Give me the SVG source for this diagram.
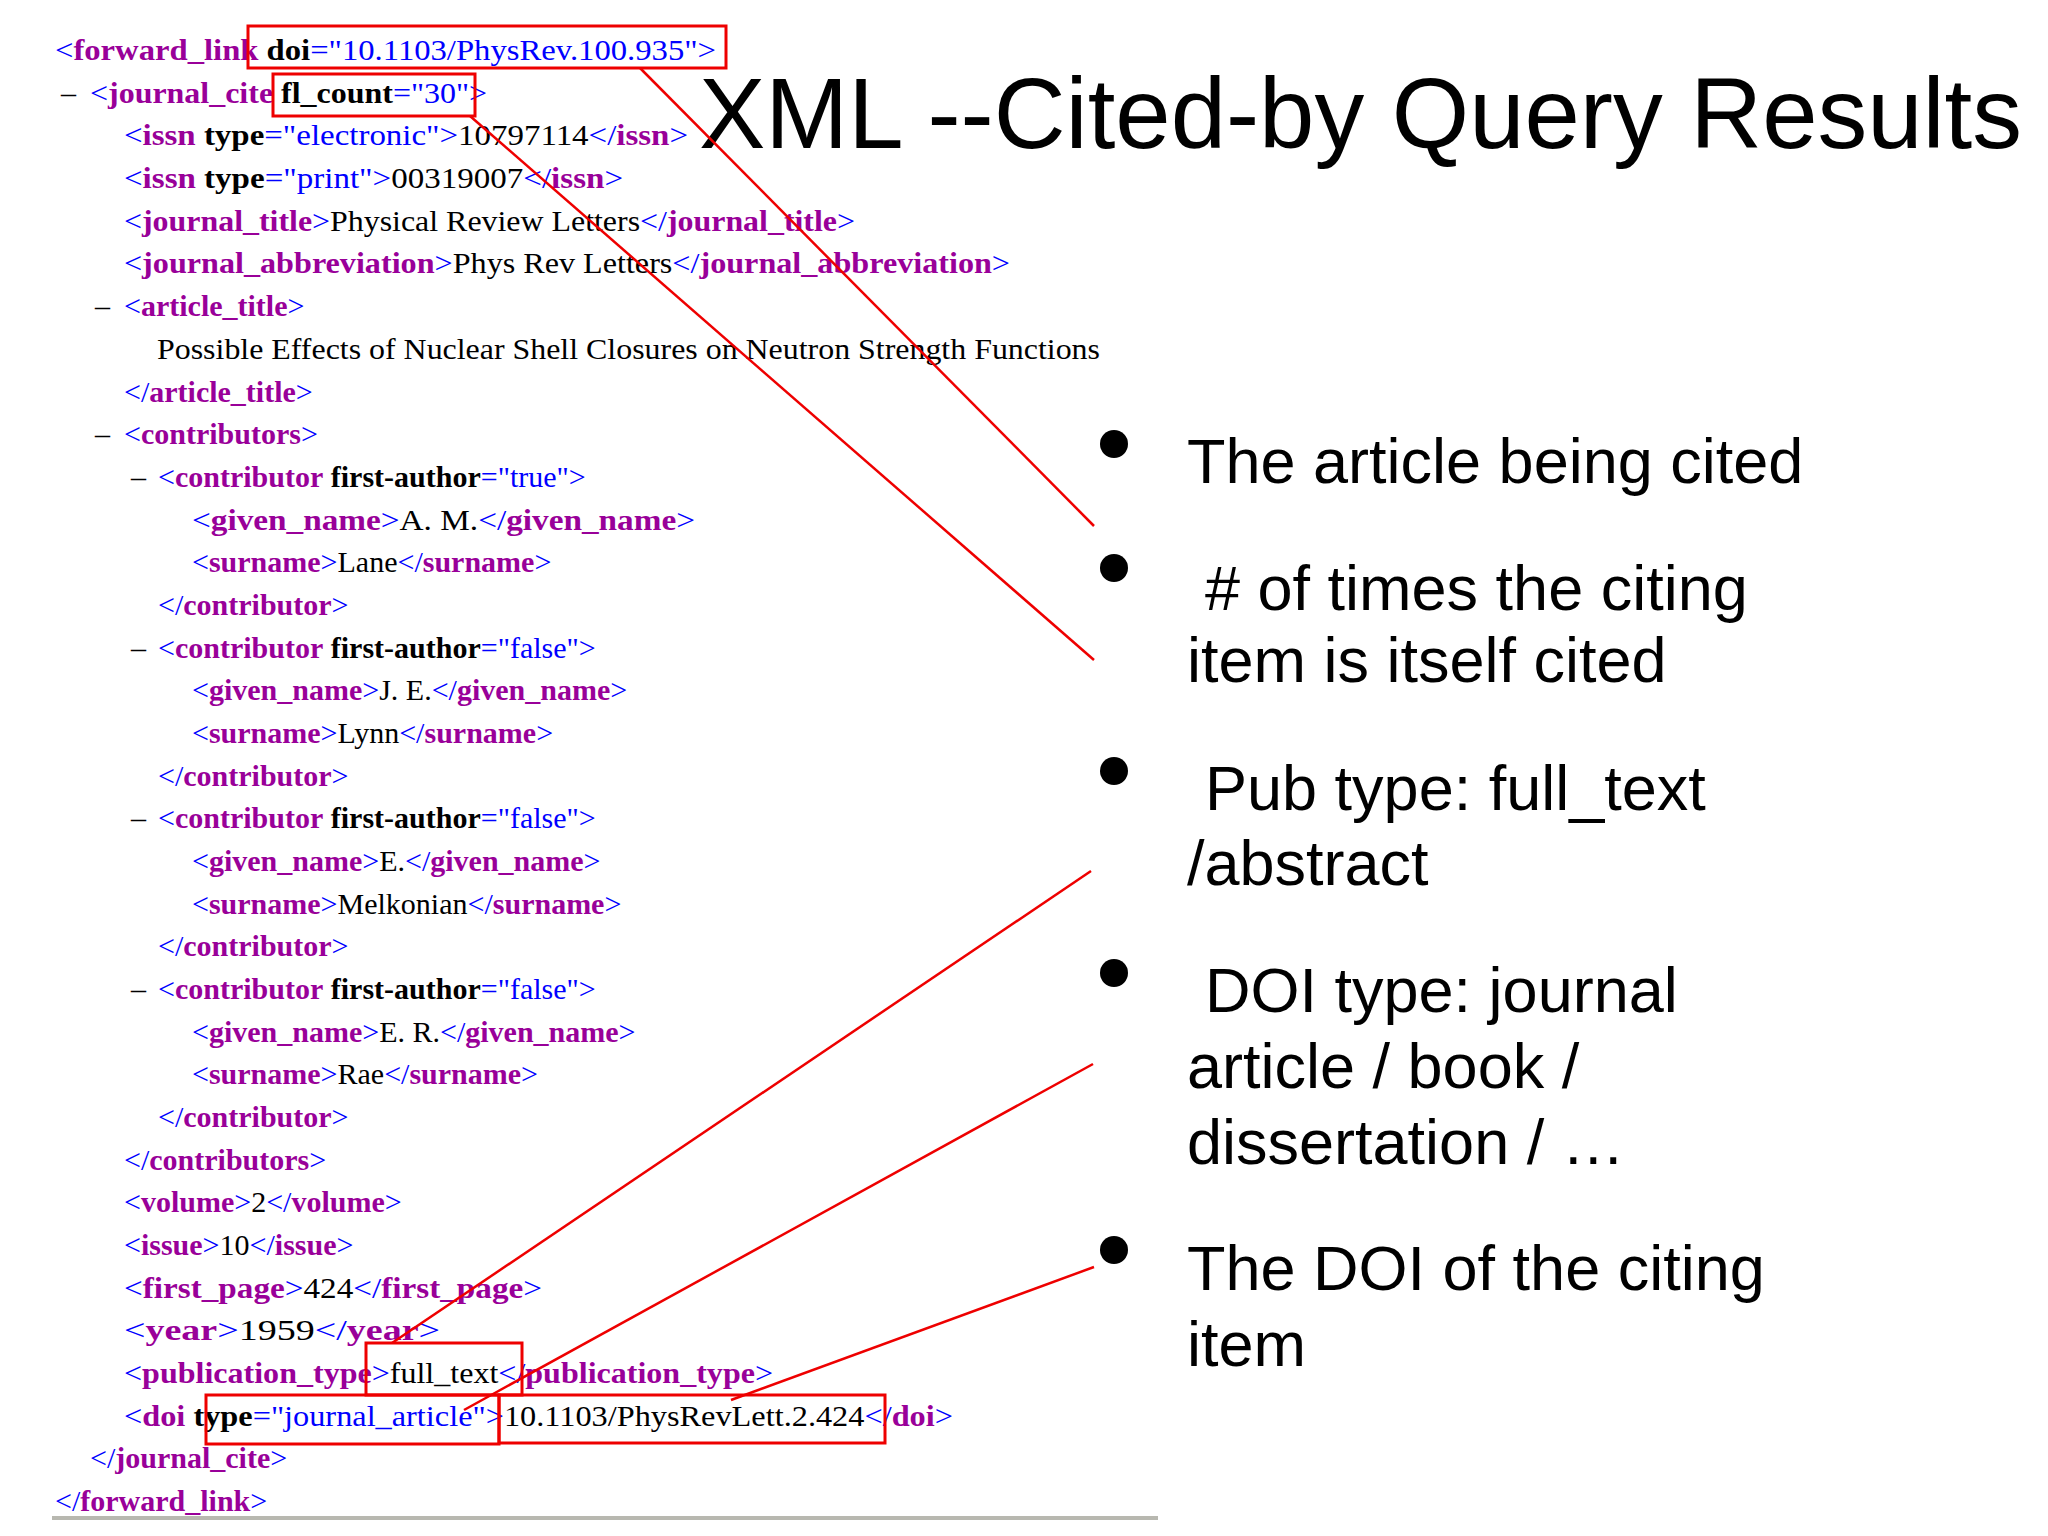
<svg xmlns="http://www.w3.org/2000/svg" width="2048" height="1536" viewBox="0 0 2048 1536">
<style>
.x{font-family:"Liberation Serif","Times New Roman",serif;font-size:30px;fill:#000}
.b{fill:#0000ff}
.t{fill:#990099;font-weight:bold}
.a{font-weight:bold;fill:#000}
.v{fill:#0000ff}
.bul{font-family:"Liberation Sans",Arial,sans-serif;font-size:63px;fill:#000}
.box{fill:none;stroke:#ee0000;stroke-width:3}
.ln{stroke:#ee0000;stroke-width:2.5}
</style>
<rect width="2048" height="1536" fill="#fff"/>
<g id="xml">
<text class="x" x="55" y="60" textLength="661" lengthAdjust="spacingAndGlyphs"><tspan class="b">&lt;</tspan><tspan class="t">forward_link</tspan> <tspan class="a">doi</tspan><tspan class="b">="</tspan><tspan class="v">10.1103/PhysRev.100.935</tspan><tspan class="b">"&gt;</tspan></text>
<text class="x" x="61" y="103">–</text>
<text class="x" x="90" y="103" textLength="397" lengthAdjust="spacingAndGlyphs"><tspan class="b">&lt;</tspan><tspan class="t">journal_cite</tspan> <tspan class="a">fl_count</tspan><tspan class="b">="</tspan><tspan class="v">30</tspan><tspan class="b">"&gt;</tspan></text>
<text class="x" x="124" y="145" textLength="564" lengthAdjust="spacingAndGlyphs"><tspan class="b">&lt;</tspan><tspan class="t">issn</tspan> <tspan class="a">type</tspan><tspan class="b">="</tspan><tspan class="v">electronic</tspan><tspan class="b">"&gt;</tspan>10797114<tspan class="b">&lt;/</tspan><tspan class="t">issn</tspan><tspan class="b">&gt;</tspan></text>
<text class="x" x="124" y="188" textLength="499" lengthAdjust="spacingAndGlyphs"><tspan class="b">&lt;</tspan><tspan class="t">issn</tspan> <tspan class="a">type</tspan><tspan class="b">="</tspan><tspan class="v">print</tspan><tspan class="b">"&gt;</tspan>00319007<tspan class="b">&lt;/</tspan><tspan class="t">issn</tspan><tspan class="b">&gt;</tspan></text>
<text class="x" x="124" y="231" textLength="731" lengthAdjust="spacingAndGlyphs"><tspan class="b">&lt;</tspan><tspan class="t">journal_title</tspan><tspan class="b">&gt;</tspan>Physical Review Letters<tspan class="b">&lt;/</tspan><tspan class="t">journal_title</tspan><tspan class="b">&gt;</tspan></text>
<text class="x" x="124" y="273" textLength="886" lengthAdjust="spacingAndGlyphs"><tspan class="b">&lt;</tspan><tspan class="t">journal_abbreviation</tspan><tspan class="b">&gt;</tspan>Phys Rev Letters<tspan class="b">&lt;/</tspan><tspan class="t">journal_abbreviation</tspan><tspan class="b">&gt;</tspan></text>
<text class="x" x="95" y="316">–</text>
<text class="x" x="124" y="316"><tspan class="b">&lt;</tspan><tspan class="t">article_title</tspan><tspan class="b">&gt;</tspan></text>
<text class="x" x="157" y="359" textLength="943" lengthAdjust="spacingAndGlyphs">Possible Effects of Nuclear Shell Closures on Neutron Strength Functions</text>
<text class="x" x="124" y="402"><tspan class="b">&lt;/</tspan><tspan class="t">article_title</tspan><tspan class="b">&gt;</tspan></text>
<text class="x" x="95" y="444">–</text>
<text class="x" x="124" y="444"><tspan class="b">&lt;</tspan><tspan class="t">contributors</tspan><tspan class="b">&gt;</tspan></text>
<text class="x" x="131" y="487">–</text>
<text class="x" x="158" y="487"><tspan class="b">&lt;</tspan><tspan class="t">contributor</tspan> <tspan class="a">first-author</tspan><tspan class="b">="</tspan><tspan class="v">true</tspan><tspan class="b">"&gt;</tspan></text>
<text class="x" x="192" y="530" textLength="503" lengthAdjust="spacingAndGlyphs"><tspan class="b">&lt;</tspan><tspan class="t">given_name</tspan><tspan class="b">&gt;</tspan>A. M.<tspan class="b">&lt;/</tspan><tspan class="t">given_name</tspan><tspan class="b">&gt;</tspan></text>
<text class="x" x="192" y="572"><tspan class="b">&lt;</tspan><tspan class="t">surname</tspan><tspan class="b">&gt;</tspan>Lane<tspan class="b">&lt;/</tspan><tspan class="t">surname</tspan><tspan class="b">&gt;</tspan></text>
<text class="x" x="158" y="615"><tspan class="b">&lt;/</tspan><tspan class="t">contributor</tspan><tspan class="b">&gt;</tspan></text>
<text class="x" x="131" y="658">–</text>
<text class="x" x="158" y="658"><tspan class="b">&lt;</tspan><tspan class="t">contributor</tspan> <tspan class="a">first-author</tspan><tspan class="b">="</tspan><tspan class="v">false</tspan><tspan class="b">"&gt;</tspan></text>
<text class="x" x="192" y="700"><tspan class="b">&lt;</tspan><tspan class="t">given_name</tspan><tspan class="b">&gt;</tspan>J. E.<tspan class="b">&lt;/</tspan><tspan class="t">given_name</tspan><tspan class="b">&gt;</tspan></text>
<text class="x" x="192" y="743"><tspan class="b">&lt;</tspan><tspan class="t">surname</tspan><tspan class="b">&gt;</tspan>Lynn<tspan class="b">&lt;/</tspan><tspan class="t">surname</tspan><tspan class="b">&gt;</tspan></text>
<text class="x" x="158" y="786"><tspan class="b">&lt;/</tspan><tspan class="t">contributor</tspan><tspan class="b">&gt;</tspan></text>
<text class="x" x="131" y="828">–</text>
<text class="x" x="158" y="828"><tspan class="b">&lt;</tspan><tspan class="t">contributor</tspan> <tspan class="a">first-author</tspan><tspan class="b">="</tspan><tspan class="v">false</tspan><tspan class="b">"&gt;</tspan></text>
<text class="x" x="192" y="871"><tspan class="b">&lt;</tspan><tspan class="t">given_name</tspan><tspan class="b">&gt;</tspan>E.<tspan class="b">&lt;/</tspan><tspan class="t">given_name</tspan><tspan class="b">&gt;</tspan></text>
<text class="x" x="192" y="914"><tspan class="b">&lt;</tspan><tspan class="t">surname</tspan><tspan class="b">&gt;</tspan>Melkonian<tspan class="b">&lt;/</tspan><tspan class="t">surname</tspan><tspan class="b">&gt;</tspan></text>
<text class="x" x="158" y="956"><tspan class="b">&lt;/</tspan><tspan class="t">contributor</tspan><tspan class="b">&gt;</tspan></text>
<text class="x" x="131" y="999">–</text>
<text class="x" x="158" y="999"><tspan class="b">&lt;</tspan><tspan class="t">contributor</tspan> <tspan class="a">first-author</tspan><tspan class="b">="</tspan><tspan class="v">false</tspan><tspan class="b">"&gt;</tspan></text>
<text class="x" x="192" y="1042"><tspan class="b">&lt;</tspan><tspan class="t">given_name</tspan><tspan class="b">&gt;</tspan>E. R.<tspan class="b">&lt;/</tspan><tspan class="t">given_name</tspan><tspan class="b">&gt;</tspan></text>
<text class="x" x="192" y="1084"><tspan class="b">&lt;</tspan><tspan class="t">surname</tspan><tspan class="b">&gt;</tspan>Rae<tspan class="b">&lt;/</tspan><tspan class="t">surname</tspan><tspan class="b">&gt;</tspan></text>
<text class="x" x="158" y="1127"><tspan class="b">&lt;/</tspan><tspan class="t">contributor</tspan><tspan class="b">&gt;</tspan></text>
<text class="x" x="124" y="1170"><tspan class="b">&lt;/</tspan><tspan class="t">contributors</tspan><tspan class="b">&gt;</tspan></text>
<text class="x" x="124" y="1212"><tspan class="b">&lt;</tspan><tspan class="t">volume</tspan><tspan class="b">&gt;</tspan>2<tspan class="b">&lt;/</tspan><tspan class="t">volume</tspan><tspan class="b">&gt;</tspan></text>
<text class="x" x="124" y="1255"><tspan class="b">&lt;</tspan><tspan class="t">issue</tspan><tspan class="b">&gt;</tspan>10<tspan class="b">&lt;/</tspan><tspan class="t">issue</tspan><tspan class="b">&gt;</tspan></text>
<text class="x" x="124" y="1298" textLength="418" lengthAdjust="spacingAndGlyphs"><tspan class="b">&lt;</tspan><tspan class="t">first_page</tspan><tspan class="b">&gt;</tspan>424<tspan class="b">&lt;/</tspan><tspan class="t">first_page</tspan><tspan class="b">&gt;</tspan></text>
<text class="x" x="124" y="1340" textLength="316" lengthAdjust="spacingAndGlyphs"><tspan class="b">&lt;</tspan><tspan class="t">year</tspan><tspan class="b">&gt;</tspan>1959<tspan class="b">&lt;/</tspan><tspan class="t">year</tspan><tspan class="b">&gt;</tspan></text>
<text class="x" x="124" y="1383" textLength="649" lengthAdjust="spacingAndGlyphs"><tspan class="b">&lt;</tspan><tspan class="t">publication_type</tspan><tspan class="b">&gt;</tspan>full_text<tspan class="b">&lt;/</tspan><tspan class="t">publication_type</tspan><tspan class="b">&gt;</tspan></text>
<text class="x" x="124" y="1426" textLength="829" lengthAdjust="spacingAndGlyphs"><tspan class="b">&lt;</tspan><tspan class="t">doi</tspan> <tspan class="a">type</tspan><tspan class="b">="</tspan><tspan class="v">journal_article</tspan><tspan class="b">"&gt;</tspan>10.1103/PhysRevLett.2.424<tspan class="b">&lt;/</tspan><tspan class="t">doi</tspan><tspan class="b">&gt;</tspan></text>
<text class="x" x="90" y="1468"><tspan class="b">&lt;/</tspan><tspan class="t">journal_cite</tspan><tspan class="b">&gt;</tspan></text>
<text class="x" x="55" y="1511"><tspan class="b">&lt;/</tspan><tspan class="t">forward_link</tspan><tspan class="b">&gt;</tspan></text>
<rect x="52" y="1516" width="1106" height="4" fill="#b8b8b0"/>
</g>
<g id="title"><text x="699" y="148" font-family="Liberation Sans,Arial,sans-serif" font-size="100" textLength="1323" lengthAdjust="spacingAndGlyphs">XML --Cited-by Query Results</text></g>
<g id="boxes">
<rect class="box" x="248" y="26" width="478" height="42"/>
<rect class="box" x="273" y="74" width="202" height="42"/>
<rect class="box" x="366" y="1343" width="156" height="52"/>
<rect class="box" x="206" y="1395" width="293" height="49"/>
<rect class="box" x="499" y="1395" width="386" height="48"/>
</g>
<g id="connectors">
<line class="ln" x1="640" y1="68" x2="1094" y2="526"/>
<line class="ln" x1="470" y1="116" x2="1094" y2="660"/>
<line class="ln" x1="392" y1="1343" x2="1091" y2="871"/>
<line class="ln" x1="464" y1="1410" x2="1093" y2="1064"/>
<line class="ln" x1="731" y1="1400" x2="1094" y2="1267"/>
</g>
<g id="bullets">
<circle cx="1114" cy="444" r="14"/>
<circle cx="1114" cy="568" r="14"/>
<circle cx="1114" cy="771" r="14"/>
<circle cx="1114" cy="973" r="14"/>
<circle cx="1114" cy="1250" r="14"/>
<text class="bul" x="1187" y="483">The article being cited</text>
<text class="bul" x="1205" y="610"># of times the citing</text>
<text class="bul" x="1187" y="682">item is itself cited</text>
<text class="bul" x="1205" y="810">Pub type: full_text</text>
<text class="bul" x="1187" y="885">/abstract</text>
<text class="bul" x="1205" y="1012">DOI type: journal</text>
<text class="bul" x="1187" y="1088">article / book /</text>
<text class="bul" x="1187" y="1164">dissertation / …</text>
<text class="bul" x="1187" y="1290">The DOI of the citing</text>
<text class="bul" x="1187" y="1366">item</text>
</g>
</svg>
